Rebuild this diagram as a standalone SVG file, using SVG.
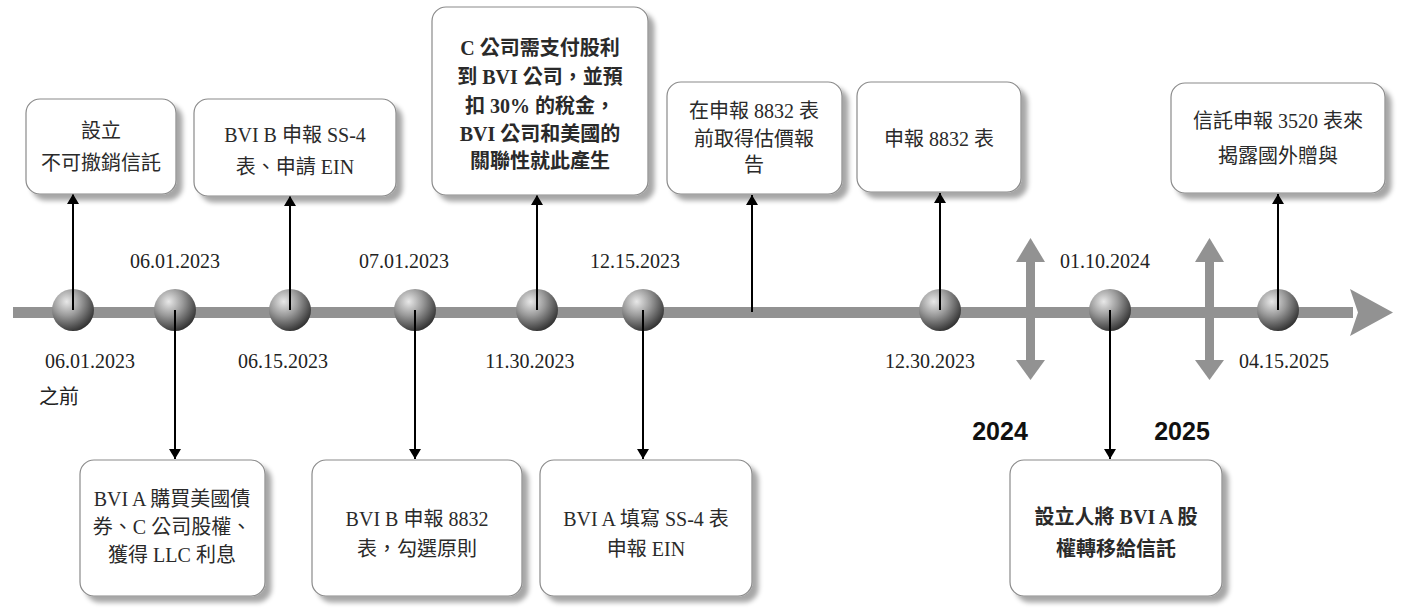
<svg xmlns="http://www.w3.org/2000/svg" width="1405" height="613" viewBox="0 0 1405 613">
<defs>
<filter id="sh" x="-10%" y="-10%" width="130%" height="130%">
<feGaussianBlur in="SourceAlpha" stdDeviation="2.5"/>
<feOffset dx="6" dy="6" result="b"/>
<feComponentTransfer><feFuncA type="linear" slope="0.35"/></feComponentTransfer>
<feMerge><feMergeNode/><feMergeNode in="SourceGraphic"/></feMerge>
</filter>
<radialGradient id="ball" cx="0.35" cy="0.3" r="0.75">
<stop offset="0" stop-color="#e8e8e8"/>
<stop offset="0.45" stop-color="#9a9a9a"/>
<stop offset="1" stop-color="#2e2e2e"/>
</radialGradient>
<marker id="ah" viewBox="0 0 10 12" refX="10" refY="6" markerWidth="10" markerHeight="12" markerUnits="userSpaceOnUse" orient="auto">
<path d="M0,0 L10,6 L0,12 Z" fill="#000"/>
</marker>
<style>
.box{fill:#fff;stroke:#8a8a8a;stroke-width:1.2;filter:url(#sh)}
.t{font-family:"Liberation Serif","Noto Sans CJK TC",serif;font-size:20px;fill:#2a2a2a;text-anchor:middle}
.b{font-weight:600}
.d{font-family:"Liberation Serif","Noto Sans CJK TC",serif;font-size:20px;fill:#222;text-anchor:middle}
.y{font-family:"Liberation Sans",sans-serif;font-size:25px;font-weight:bold;fill:#111;text-anchor:middle}
.c{stroke:#000;stroke-width:2;fill:none;marker-end:url(#ah)}
.g{fill:#929292}
</style>
</defs>
<rect width="1405" height="613" fill="#fff"/>

<g id="timeline">
<rect x="13" y="307" width="1340" height="11" class="g"/>
<path d="M1350,289 L1393,312.5 L1350,336 L1358,312.5 Z" class="g"/>
<g id="marker-2024">
<rect x="1026" y="258" width="9" height="106" class="g"/>
<path d="M1016,262 L1030.5,238 L1045,262 Z" class="g"/>
<path d="M1016,360 L1030.5,380 L1045,360 Z" class="g"/>
</g>
<g id="marker-2025">
<rect x="1205" y="258" width="9" height="106" class="g"/>
<path d="M1195,262 L1209.5,238 L1224,262 Z" class="g"/>
<path d="M1195,360 L1209.5,380 L1224,360 Z" class="g"/>
</g>
</g>

<g id="balls">
<ellipse cx="73" cy="310" rx="21" ry="21" fill="url(#ball)"/>
<ellipse cx="175" cy="310" rx="21" ry="21" fill="url(#ball)"/>
<ellipse cx="290" cy="310" rx="21" ry="21" fill="url(#ball)"/>
<ellipse cx="415" cy="310" rx="21" ry="21" fill="url(#ball)"/>
<ellipse cx="537" cy="310" rx="21" ry="21" fill="url(#ball)"/>
<ellipse cx="643" cy="310" rx="21" ry="21" fill="url(#ball)"/>
<ellipse cx="940" cy="310" rx="21" ry="21" fill="url(#ball)"/>
<ellipse cx="1110" cy="310" rx="21" ry="21" fill="url(#ball)"/>
<ellipse cx="1278" cy="310" rx="21" ry="21" fill="url(#ball)"/>
</g>

<g id="connectors">
<line x1="73" y1="310" x2="73" y2="194" class="c"/>
<line x1="175" y1="310" x2="175" y2="459" class="c"/>
<line x1="290" y1="310" x2="290" y2="196" class="c"/>
<line x1="415" y1="310" x2="415" y2="459" class="c"/>
<line x1="537" y1="310" x2="537" y2="195" class="c"/>
<line x1="643" y1="310" x2="643" y2="459" class="c"/>
<line x1="752" y1="312" x2="752" y2="195" class="c"/>
<line x1="940" y1="310" x2="940" y2="193" class="c"/>
<line x1="1110" y1="310" x2="1110" y2="459" class="c"/>
<line x1="1278" y1="310" x2="1278" y2="194" class="c"/>
</g>

<g id="dates">
<text class="d" x="175" y="268">06.01.2023</text>
<text class="d" x="404" y="268">07.01.2023</text>
<text class="d" x="635" y="268">12.15.2023</text>
<text class="d" x="1105" y="268">01.10.2024</text>
<text class="d" x="90" y="368">06.01.2023</text>
<text class="d" x="59" y="404">之前</text>
<text class="d" x="283" y="368">06.15.2023</text>
<text class="d" x="530" y="368">11.30.2023</text>
<text class="d" x="930" y="368">12.30.2023</text>
<text class="d" x="1284" y="368">04.15.2025</text>
<text class="y" x="1000" y="440">2024</text>
<text class="y" x="1182" y="440">2025</text>
</g>

<g id="n1">
<rect class="box" x="26" y="99" width="150" height="95" rx="14"/>
<text class="t" x="101" y="138">設立</text>
<text class="t" x="101" y="170">不可撤銷信託</text>
</g>
<g id="n2">
<rect class="box" x="194" y="99" width="202" height="97" rx="14"/>
<text class="t" x="295" y="142">BVI B 申報 SS-4</text>
<text class="t" x="295" y="174">表、申請 EIN</text>
</g>
<g id="n3">
<rect class="box" x="432" y="7" width="216" height="188" rx="14"/>
<text class="t b" x="540" y="55">C 公司需支付股利</text>
<text class="t b" x="540" y="84">到 BVI 公司，並預</text>
<text class="t b" x="540" y="113">扣 30% 的稅金，</text>
<text class="t b" x="540" y="141">BVI 公司和美國的</text>
<text class="t b" x="540" y="168">關聯性就此產生</text>
</g>
<g id="n4">
<rect class="box" x="667" y="82" width="175" height="112" rx="14"/>
<text class="t" x="754" y="118">在申報 8832 表</text>
<text class="t" x="754" y="146">前取得估價報</text>
<text class="t" x="754" y="172">告</text>
</g>
<g id="n5">
<rect class="box" x="857" y="82" width="164" height="110" rx="14"/>
<text class="t" x="939" y="146">申報 8832 表</text>
</g>
<g id="n6">
<rect class="box" x="1171" y="83" width="214" height="110" rx="14"/>
<text class="t" x="1278" y="128">信託申報 3520 表來</text>
<text class="t" x="1278" y="163">揭露國外贈與</text>
</g>
<g id="nA">
<rect class="box" x="80" y="460" width="185" height="136" rx="14"/>
<text class="t" x="172" y="506">BVI A 購買美國債</text>
<text class="t" x="172" y="534">券、C 公司股權、</text>
<text class="t" x="172" y="562">獲得 LLC 利息</text>
</g>
<g id="nB">
<rect class="box" x="312" y="460" width="210" height="136" rx="14"/>
<text class="t" x="417" y="526">BVI B 申報 8832</text>
<text class="t" x="417" y="556">表，勾選原則</text>
</g>
<g id="nC">
<rect class="box" x="540" y="460" width="212" height="136" rx="14"/>
<text class="t" x="646" y="526">BVI A 填寫 SS-4 表</text>
<text class="t" x="646" y="556">申報 EIN</text>
</g>
<g id="nD">
<rect class="box" x="1010" y="460" width="212" height="136" rx="14"/>
<text class="t b" x="1116" y="524">設立人將 BVI A 股</text>
<text class="t b" x="1116" y="556">權轉移給信託</text>
</g>
</svg>
